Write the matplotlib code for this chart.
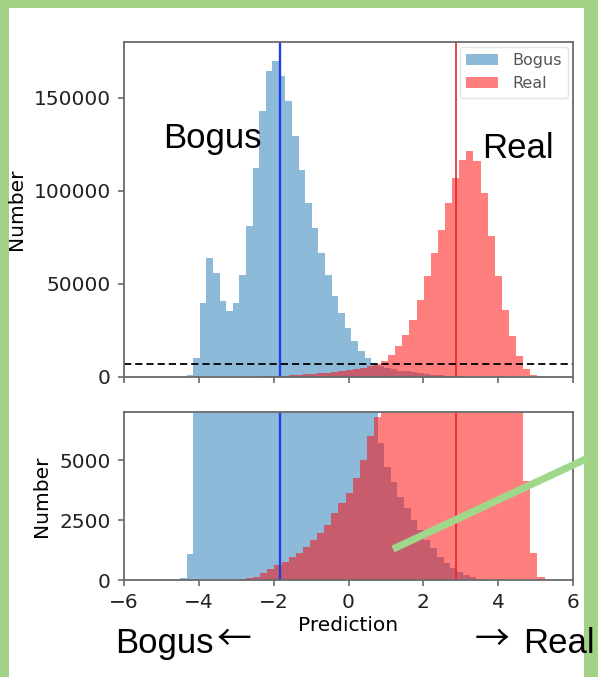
import numpy as np
import matplotlib.pyplot as plt
from matplotlib.lines import Line2D
from matplotlib.patches import Rectangle

# histogram counts per bin (Bogus and Real classifier outputs)
bogus_start = -4.50
bogus_width = 0.176
bogus_counts = [100, 1100, 10200, 39800, 64000, 55900, 40600, 35300, 39800, 55000,
                81000, 112400, 142800, 164300, 169700, 161600, 148200, 129400, 111400, 93500,
                80100, 66700, 55000, 43300, 34400, 26300, 19100, 13800, 10200, 7500,
                5700, 4720, 4100, 3470, 2990, 2500, 2080, 1670, 1320, 970,
                700, 490, 350, 210, 120, 60, 30]

real_start = -3.31
real_width = 0.19
real_counts = [5, 15, 35, 70, 140, 280, 440, 625, 760, 940,
               1110, 1390, 1670, 1950, 2290, 2780, 3200, 3610, 4240, 5000,
               6000, 6800, 8400, 12000, 16400, 22700, 30800, 41600, 54100, 66700,
               79200, 93500, 107000, 116800, 121300, 115900, 98900, 75600, 54100, 36200,
               21800, 11100, 4125, 1110, 140]

bogus_center = -1.83
real_center = 2.88
cut_level = 7000

top_yticks = [0, 50000, 100000, 150000]
bottom_yticks = [0, 2500, 5000]
xticks = [-6, -4, -2, 0, 2, 4, 6]

bogus_edges = bogus_start + bogus_width * np.arange(len(bogus_counts) + 1)
real_edges = real_start + real_width * np.arange(len(real_counts) + 1)
bogus_mid = (bogus_edges[:-1] + bogus_edges[1:]) / 2
real_mid = (real_edges[:-1] + real_edges[1:]) / 2

plt.rcParams['font.size'] = 14.5
plt.rcParams['axes.edgecolor'] = '#6a6a6a'
plt.rcParams['axes.linewidth'] = 1.3
plt.rcParams['xtick.color'] = '#6a6a6a'
plt.rcParams['ytick.color'] = '#6a6a6a'
plt.rcParams['xtick.labelcolor'] = '#222222'
plt.rcParams['ytick.labelcolor'] = '#222222'

fig = plt.figure(figsize=(5.98, 6.77), dpi=100, facecolor='#a3d286')
fig.patches.append(Rectangle((9 / 598, 0), 575 / 598, 669 / 677, transform=fig.transFigure,
                             facecolor='white', edgecolor='none', zorder=-5))

ax1 = fig.add_axes([124 / 598, 300 / 677, 449 / 598, 335 / 677])
ax2 = fig.add_axes([124 / 598, 97 / 677, 449 / 598, 168 / 677])

for ax in (ax1, ax2):
    ax.hist(bogus_mid, bins=bogus_edges, weights=bogus_counts, histtype='stepfilled',
            color='#1f77b4', alpha=0.5, linewidth=0, label='Bogus')
    ax.hist(real_mid, bins=real_edges, weights=real_counts, histtype='stepfilled',
            color='red', alpha=0.5, linewidth=0, label='Real')
    ax.axvline(bogus_center, color='#1c3fe6', lw=1.7)
    ax.axvline(real_center, color='#e8262a', lw=1.2)
    ax.set_xlim(-6, 6)
    ax.set_xticks(xticks)
    ax.tick_params(length=4.5, width=1.2, pad=5)

ax1.axhline(cut_level, color='black', ls='--', lw=1.3, dashes=(4, 2.2))
ax1.set_ylim(0, 180000)
ax1.set_yticks(top_yticks)
ax1.set_xticklabels([])
ax1.set_ylabel('Number')
ax1.yaxis.set_label_coords(-0.218, 0.5)
leg = ax1.legend(loc='upper right', fontsize=11.5, borderaxespad=0.3, labelcolor='#555555',
                 handletextpad=0.9)
leg.get_frame().set_edgecolor('#dddddd')

ax2.set_ylim(0, cut_level)
ax2.set_yticks(bottom_yticks)
ax2.set_ylabel('Number')
ax2.yaxis.set_label_coords(-0.163, 0.5)
ax2.set_xlabel('Prediction', labelpad=3)

# overlay labels
fam = ['Liberation Sans', 'DejaVu Sans']
arrow_fam = ['Noto Sans CJK SC', 'DejaVu Sans']
fig.text(163 / 598, 1 - 148 / 677, 'Bogus', fontsize=25, family=fam, va='baseline')
fig.text(482 / 598, 1 - 158 / 677, 'Real', fontsize=25, family=fam, va='baseline')
fig.text(115 / 598, 1 - 653 / 677, 'Bogus', fontsize=25, family=fam, va='baseline')
fig.text(217 / 598, 1 - 650 / 677, '\u2190', fontsize=25, family=arrow_fam, va='baseline')
fig.text(475 / 598, 1 - 650 / 677, '\u2192', fontsize=25, family=arrow_fam, va='baseline')
fig.text(523 / 598, 1 - 653 / 677, 'Real', fontsize=25, family=fam, va='baseline')

# pointer line into the overlap region
fig.lines.append(Line2D([393 / 598, 588 / 598], [1 - 549 / 677, 1 - 458 / 677],
                        transform=fig.transFigure, color='#9fd88a', lw=5.2,
                        solid_capstyle='butt', zorder=10))

fig.savefig('out.png', dpi=100, facecolor=fig.get_facecolor())
